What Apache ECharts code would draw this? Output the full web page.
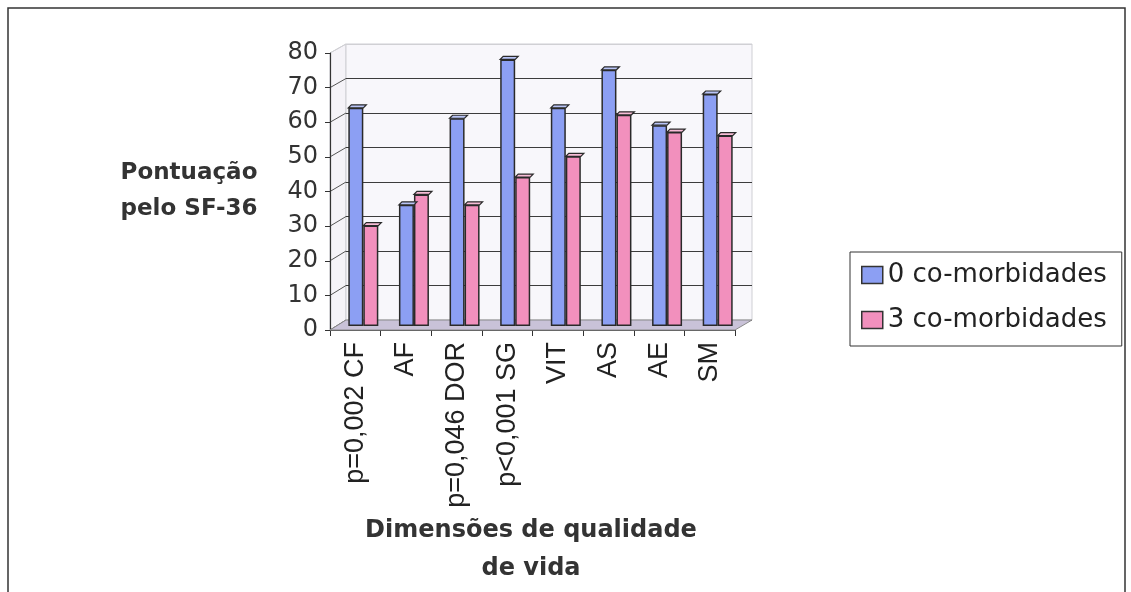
<!DOCTYPE html>
<html><head><meta charset="utf-8">
<script src="https://cdn.jsdelivr.net/npm/echarts@6/dist/echarts.min.js"></script>
<style>html,body{margin:0;padding:0;background:#fff}#c{width:1131px;height:592px}</style>
</head><body><div id="c"></div>
<script>
// ---- data ----
const categories = ['p=0,002 CF', 'AF', 'p=0,046 DOR', 'p<0,001 SG', 'VIT', 'AS', 'AE', 'SM'];
const zeroComorb = [63, 35, 60, 77, 63, 74, 58, 67];
const threeComorb = [29, 38, 35, 43, 49, 61, 56, 55];
const seriesNames = ['0 co-morbidades', '3 co-morbidades'];
const yTicks = [0, 10, 20, 30, 40, 50, 60, 70, 80];
const yTitle = ['Pontuação', 'pelo SF-36'];
const xTitle = ['Dimensões de qualidade', 'de vida'];

// ---- layout ----
const W = 1131, H = 592;
const front = { left: 330, right: 396, top: 53, bottom: 262 };
const back  = { left: 346, right: 379, top: 44, bottom: 272 };
const mid   = { left: 338, right: 388, top: 49, bottom: 266 };
const BAR_W = 15;
const colors = ['#8c9ff3', '#f290bd'];
const capColors = ['#b9c4f7', '#f7bcd6'];

const chart = echarts.init(document.getElementById('c'));
const yMin = yTicks[0], yMax = yTicks[yTicks.length - 1], yInt = yTicks[1] - yTicks[0];

function capSeries(values, k) {
  return {
    type: 'custom', xAxisIndex: 2, yAxisIndex: 2, z: 4, silent: true,
    data: values.map((v, i) => [i, v]),
    renderItem: function (params, api) {
      const c = api.coord([api.value(0), api.value(1)]);
      const x0 = c[0] - BAR_W + k * BAR_W, y = c[1];
      const d = 3;
      return {
        type: 'polygon',
        shape: { points: [[x0, y], [x0 + BAR_W, y], [x0 + BAR_W + d, y - d], [x0 + d, y - d]] },
        style: { fill: capColors[k], stroke: '#2a2a2a', lineWidth: 1.2 }
      };
    }
  };
}

const option = {
  animation: false,
  backgroundColor: '#fff',
  grid: [
    Object.assign({ show: false, containLabel: false }, front),
    Object.assign({ show: true, containLabel: false, backgroundColor: '#f8f7fb', borderColor: '#cfcfd4', borderWidth: 1 }, back),
    Object.assign({ show: false, containLabel: false }, mid)
  ],
  xAxis: [
    { type: 'category', gridIndex: 0, data: categories, boundaryGap: true,
      axisLine: { show: true, lineStyle: { color: '#444', width: 1 } },
      axisTick: { show: true, alignWithLabel: false, length: 6, lineStyle: { color: '#333' } },
      axisLabel: { rotate: 90, margin: 12, fontFamily: 'Liberation Sans', fontSize: 27, color: '#222', interval: 0 },
      splitLine: { show: false } },
    { type: 'category', gridIndex: 1, data: categories, show: false },
    { type: 'category', gridIndex: 2, data: categories, show: false }
  ],
  yAxis: [
    { type: 'value', gridIndex: 0, min: yMin, max: yMax, interval: yInt,
      axisLine: { show: true, lineStyle: { color: '#333', width: 1.2 } },
      axisTick: { show: true, length: 5, lineStyle: { color: '#333' } },
      axisLabel: { margin: 12, fontFamily: 'DejaVu Sans', fontSize: 24, color: '#333' },
      splitLine: { show: false } },
    { type: 'value', gridIndex: 1, min: yMin, max: yMax, interval: yInt,
      axisLine: { show: false }, axisTick: { show: false }, axisLabel: { show: false },
      splitLine: { show: true, lineStyle: { width: 1.2,
        color: yTicks.map((v, i) => i === yTicks.length - 1 ? '#d0d0d4' : '#3c3c3c') } } },
    { type: 'value', gridIndex: 2, min: yMin, max: yMax, interval: yInt, show: false,
      splitLine: { show: false } }
  ],
  legend: {
    left: 850, top: 252, orient: 'vertical',
    itemWidth: 21, itemHeight: 17, itemGap: 19,
    padding: [10, 15, 13, 11],
    borderColor: '#333', borderWidth: 1, backgroundColor: '#fff',
    icon: 'rect',
    itemStyle: { borderColor: '#333', borderWidth: 1.5 },
    textStyle: { fontFamily: 'DejaVu Sans', fontSize: 26, lineHeight: 26, color: '#222' },
    data: seriesNames
  },
  series: [
    { name: seriesNames[0], type: 'bar', xAxisIndex: 2, yAxisIndex: 2, data: zeroComorb,
      barWidth: BAR_W, barGap: '0%', z: 3,
      itemStyle: { color: colors[0], borderColor: '#2a2a2a', borderWidth: 1.5 } },
    { name: seriesNames[1], type: 'bar', xAxisIndex: 2, yAxisIndex: 2, data: threeComorb,
      barWidth: BAR_W, barGap: '0%', z: 3,
      itemStyle: { color: colors[1], borderColor: '#2a2a2a', borderWidth: 1.5 } },
    capSeries(zeroComorb, 0),
    capSeries(threeComorb, 1)
  ]
};
chart.setOption(option);

// decorative 3D walls computed from the grids
const fL = front.left, fR = W - front.right, fB = H - front.bottom, fT = front.top;
const bL = back.left, bR = W - back.right, bB = H - back.bottom, bT = back.top;
const graphics = [
  { type: 'rect', shape: { x: 8, y: 8, width: 1117, height: 620 }, z: -10,
    style: { fill: 'none', stroke: '#333', lineWidth: 1.5 }, silent: true },
  { type: 'polygon', z: -1, silent: true,
    shape: { points: [[fL, fB], [fL, fT], [bL, bT], [bL, bB]] },
    style: { fill: '#f5f3f8', stroke: '#cfcfd4', lineWidth: 1 } },
  { type: 'polygon', z: 1, silent: true,
    shape: { points: [[fL, fB], [fR, fB], [bR, bB], [bL, bB]] },
    style: { fill: '#c9c2d8', stroke: '#8a8a8a', lineWidth: 1 } }
];
yTicks.forEach(v => {
  const pf = chart.convertToPixel({ yAxisIndex: 0 }, v);
  const pb = chart.convertToPixel({ yAxisIndex: 1 }, v);
  graphics.push({ type: 'line', z: 0, silent: true,
    shape: { x1: fL, y1: pf, x2: bL, y2: pb },
    style: { stroke: v === yMax ? '#d0d0d4' : '#555', lineWidth: 1 } });
});
yTitle.forEach((t, i) => graphics.push({ type: 'text', z: 5, silent: true,
  style: { text: t, x: 189, y: 173 + i * 36, textAlign: 'center', textVerticalAlign: 'middle',
    font: 'bold 23px "DejaVu Sans"', fill: '#333' } }));
xTitle.forEach((t, i) => graphics.push({ type: 'text', z: 5, silent: true,
  style: { text: t, x: 531, y: 531 + i * 38, textAlign: 'center', textVerticalAlign: 'middle',
    font: 'bold 24px "DejaVu Sans"', fill: '#333' } }));
chart.setOption({ graphic: graphics });
</script>
</body></html>
